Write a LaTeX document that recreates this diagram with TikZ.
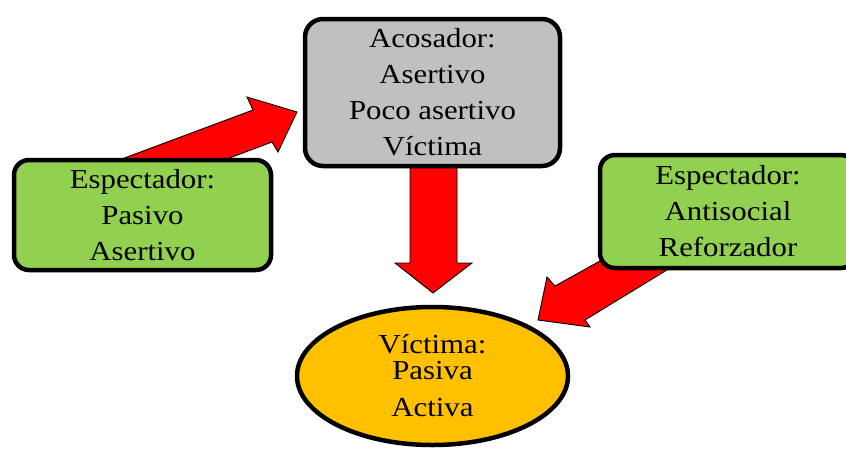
\documentclass[tikz,border=0pt]{standalone}
\usepackage{fontspec}
\setmainfont{Liberation Serif}[FakeStretch=1.12]
\usetikzlibrary{shapes.geometric}
\definecolor{boxgray}{HTML}{C0C0C0}
\definecolor{boxgreen}{HTML}{92D050}
\definecolor{ellorange}{HTML}{FFC000}
\definecolor{arrred}{HTML}{FF0000}
\tikzset{
  blockarrow/.style={fill=arrred, draw=black, line width=0.9pt, line join=miter},
  boxtext/.style={align=center, font=\fontsize{27.5}{36}\selectfont, text=black, inner sep=0pt},
  acobox/.style={boxtext, draw=black, line width=4.5pt, fill=boxgray, rounded corners=18pt, minimum width=255pt, minimum height=147pt},
  espbox/.style={boxtext, draw=black, line width=4.5pt, fill=boxgreen, rounded corners=15pt},
  vicell/.style={boxtext, ellipse, draw=black, line width=4.5pt, fill=ellorange, minimum width=271pt, minimum height=138pt}
}
\begin{document}
\begin{tikzpicture}[x=1pt, y=-1pt]
\useasboundingbox (0,0) rectangle (846,448);
\clip (0,0) rectangle (846,448);
% arrows (behind the shapes)
\draw[blockarrow] (119,160) -- (253,110) -- (247,97) -- (297,112) -- (278,152) -- (272,142) -- (195,171) -- cycle;
\draw[blockarrow] (410,160) -- (410,263) -- (395,263) -- (433,293) -- (472,263) -- (457,263) -- (457,160) -- cycle;
\draw[blockarrow] (618,251) -- (555,286) -- (547,277) -- (538,320) -- (590,327) -- (585,320) -- (680,262) -- cycle;
% shapes
\node[acobox] (aco) at (432.5,92.5) {Acosador:\\Asertivo\\Poco asertivo\\Víctima};
\node[espbox, minimum width=257pt, minimum height=110pt] (espL) at (142.5,215) {Espectador:\\Pasivo\\Asertivo};
\node[espbox, minimum width=256pt, minimum height=113pt] (espR) at (728,211.5) {Espectador:\\Antisocial\\Reforzador};
\node[vicell] (vic) at (432.5,376) {Víctima:\\[-10pt]Pasiva\\[1pt]Activa};
\end{tikzpicture}
\end{document}
